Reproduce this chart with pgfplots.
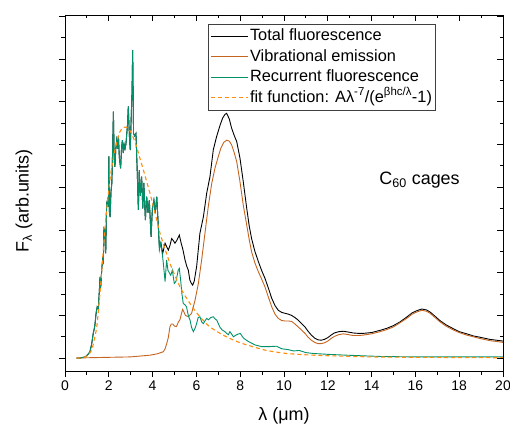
\documentclass[border=0pt]{standalone}
\usepackage{fontspec}
\setmainfont{Liberation Sans}
\usepackage{pgfplots}
\pgfplotsset{compat=1.18}
\definecolor{cblack}{RGB}{0,0,0}
\definecolor{cbrown}{RGB}{196,100,30}
\definecolor{cgreen}{RGB}{0,145,105}
\definecolor{corange}{RGB}{255,140,10}
\begin{document}
\begin{tikzpicture}
\path[use as bounding box] (-65bp,-54bp) rectangle (445bp,371bp);
\begin{axis}[
  at={(0,0)}, anchor=south west, scale only axis,
  width=438bp, height=356bp,
  xmin=0, xmax=20, ymin=-0.3, ymax=8.03,
  xtick={0,2,...,20}, minor x tick num=1,
  ytick={0,1,...,8}, minor y tick num=1, yticklabels={},
  tick align=outside, xtick pos=left, ytick pos=left,
  major tick length=6bp, minor tick length=3.5bp,
  axis line style={line width=0.9bp},
  every tick/.style={line width=0.9bp, black},
  /pgf/number format/assume math mode=true,
  tick label style={font=\fontsize{14}{16}\selectfont},
  xlabel={λ (μm)},
  ylabel={F\textsubscript{λ} (arb.units)},
  label style={font=\fontsize{18}{21}\selectfont},
  x label style={at={(axis description cs:0.5,0)}, yshift=-45bp, anchor=center},
  y label style={at={(axis description cs:-0.0936,0.478)}, anchor=center},
  legend style={at={(0.3265,0.9747)}, anchor=north west, draw=black!75, line width=0.9bp,
    font=\fontsize{16.4}{20}\selectfont, inner xsep=2bp, inner ysep=2.5bp,
    nodes={inner sep=1.5bp, text height=12.5bp, text depth=4.5bp},
    row sep=0.4bp},
  legend cell align=left,
  legend image code/.code={\draw[#1, line width=1.1bp] (0bp,0.5bp) -- (37bp,0.5bp);},
]
% Total fluorescence
\addplot[cblack, line width=0.9bp] coordinates {
(0.53,0.00)(0.75,0.01)(0.92,0.03)(1.05,0.09)(1.14,0.15)(1.22,0.34)(1.29,0.58)(1.36,0.75)(1.42,1.05)(1.47,1.2)(1.52,1.15)(1.57,1.6)(1.60,1.9)(1.63,1.65)(1.68,2.1)(1.72,2.3)(1.75,2.2)(1.78,3.04)(1.82,3.0)(1.86,2.45)(1.90,3.62)(1.94,3.7)(1.98,3.55)(2.00,4.72)(2.03,3.4)(2.06,3.3)(2.10,3.9)(2.14,4.1)(2.18,5.0)(2.21,5.77)(2.25,4.6)(2.28,4.48)(2.32,4.9)(2.36,5.1)(2.40,4.9)(2.44,5.2)(2.48,4.7)(2.54,4.44)(2.58,4.9)(2.62,5.1)(2.66,4.8)(2.70,5.0)(2.74,4.9)(2.78,5.0)(2.81,5.18)(2.86,5.5)(2.89,5.89)(2.94,5.2)(2.98,4.87)(3.02,5.6)(3.06,6.2)(3.09,7.21)(3.13,5.26)(3.18,5.2)(3.24,5.26)(3.29,4.5)(3.35,3.47)(3.39,4.4)(3.44,3.8)(3.50,4.25)(3.55,3.5)(3.60,4.1)(3.67,3.23)(3.73,3.78)(3.79,3.4)(3.85,3.7)(3.93,2.84)(3.99,3.5)(4.06,3.7)(4.12,3.4)(4.19,3.78)(4.25,3.2)(4.31,2.6)(4.38,2.7)(4.46,2.45)(4.57,2.69)(4.65,2.6)(4.72,2.53)(4.80,2.65)(4.87,2.8)(4.95,2.75)(5.02,2.69)(5.10,2.75)(5.22,2.88)(5.30,2.7)(5.38,2.55)(5.48,2.3)(5.56,2.15)(5.63,2.06)(5.70,1.83)(5.77,1.75)(5.83,1.71)(5.90,1.8)(6.01,2.14)(6.16,2.92)(6.32,3.31)(6.47,3.86)(6.62,4.25)(6.77,4.87)(6.92,5.18)(7.08,5.45)(7.20,5.62)(7.30,5.70)(7.38,5.73)(7.50,5.6)(7.61,5.38)(7.72,5.22)(7.84,5.07)(7.99,4.68)(8.14,4.13)(8.30,3.5)(8.41,3.1)(8.52,2.8)(8.67,2.5)(8.83,2.26)(8.98,2.05)(9.13,1.87)(9.28,1.65)(9.44,1.4)(9.59,1.23)(9.74,1.12)(9.90,1.07)(10.05,1.05)(10.20,1.03)(10.35,1.0)(10.50,0.95)(10.65,0.89)(10.80,0.81)(10.96,0.73)(11.10,0.63)(11.25,0.54)(11.40,0.47)(11.55,0.43)(11.70,0.42)(11.85,0.44)(12.00,0.48)(12.15,0.54)(12.30,0.59)(12.50,0.62)(12.71,0.63)(12.95,0.61)(13.16,0.59)(13.40,0.58)(13.62,0.58)(14.00,0.6)(14.38,0.65)(14.70,0.7)(14.99,0.76)(15.30,0.85)(15.60,0.96)(15.85,1.06)(16.06,1.11)(16.29,1.15)(16.50,1.13)(16.67,1.08)(16.90,0.98)(17.12,0.88)(17.40,0.78)(17.73,0.69)(18.00,0.62)(18.34,0.57)(18.65,0.52)(18.95,0.49)(19.40,0.44)(19.86,0.41)(20.00,0.40)
};
\addlegendentry{Total fluorescence}
% Vibrational emission
\addplot[cbrown, line width=0.9bp] coordinates {
(0.53,0.00)(1.0,0.01)(2.0,0.02)(3.0,0.03)(3.88,0.07)(4.2,0.10)(4.49,0.15)(4.57,0.22)(4.65,0.35)(4.72,0.49)(4.79,0.73)(4.85,0.80)(4.92,0.80)(5.0,0.75)(5.09,0.74)(5.18,0.85)(5.25,0.90)(5.32,1.05)(5.37,1.14)(5.43,1.08)(5.50,1.0)(5.63,0.97)(5.78,1.05)(5.94,1.36)(6.09,1.75)(6.24,2.3)(6.39,2.92)(6.54,3.54)(6.70,4.09)(6.85,4.45)(7.00,4.72)(7.12,4.92)(7.25,5.05)(7.38,5.10)(7.50,5.08)(7.61,4.99)(7.72,4.82)(7.84,4.6)(7.99,4.13)(8.14,3.58)(8.30,3.11)(8.41,2.78)(8.52,2.49)(8.67,2.23)(8.83,2.02)(8.98,1.85)(9.13,1.67)(9.28,1.44)(9.44,1.2)(9.59,1.03)(9.74,0.93)(9.90,0.88)(10.05,0.87)(10.20,0.87)(10.35,0.86)(10.50,0.8)(10.65,0.73)(10.80,0.66)(10.96,0.58)(11.10,0.49)(11.25,0.42)(11.40,0.37)(11.55,0.34)(11.70,0.34)(11.85,0.36)(12.00,0.40)(12.15,0.46)(12.30,0.51)(12.50,0.55)(12.71,0.57)(12.95,0.55)(13.16,0.53)(13.40,0.53)(13.62,0.54)(14.00,0.57)(14.38,0.62)(14.70,0.67)(14.99,0.73)(15.30,0.83)(15.60,0.93)(15.85,1.03)(16.06,1.08)(16.29,1.12)(16.50,1.10)(16.67,1.05)(16.90,0.95)(17.12,0.85)(17.40,0.75)(17.73,0.66)(18.00,0.60)(18.34,0.54)(18.65,0.50)(18.95,0.46)(19.40,0.41)(19.86,0.38)(20.00,0.37)
};
\addlegendentry{Vibrational emission}
% Recurrent fluorescence
\addplot[cgreen, line width=0.9bp] coordinates {
(0.53,0.00)(0.75,0.01)(0.92,0.03)(1.05,0.09)(1.14,0.15)(1.22,0.34)(1.29,0.58)(1.36,0.75)(1.42,1.05)(1.47,1.2)(1.52,1.15)(1.57,1.6)(1.60,1.9)(1.63,1.65)(1.68,2.1)(1.72,2.3)(1.75,2.2)(1.78,3.04)(1.82,3.0)(1.86,2.45)(1.90,3.62)(1.94,3.7)(1.98,3.55)(2.00,4.72)(2.03,3.4)(2.06,3.3)(2.10,3.9)(2.14,4.1)(2.18,5.0)(2.21,5.77)(2.25,4.6)(2.28,4.48)(2.32,4.9)(2.36,5.1)(2.40,4.9)(2.44,5.2)(2.48,4.7)(2.54,4.44)(2.58,4.9)(2.62,5.1)(2.66,4.8)(2.70,5.0)(2.74,4.9)(2.78,5.0)(2.81,5.18)(2.86,5.5)(2.89,5.89)(2.94,5.2)(2.98,4.87)(3.02,5.6)(3.06,6.2)(3.09,7.21)(3.13,5.26)(3.18,5.2)(3.24,5.26)(3.29,4.5)(3.35,3.47)(3.39,4.4)(3.44,3.8)(3.50,4.25)(3.55,3.5)(3.60,4.1)(3.67,3.23)(3.73,3.78)(3.79,3.4)(3.85,3.7)(3.93,2.84)(3.99,3.5)(4.06,3.7)(4.12,3.4)(4.19,3.78)(4.25,3.2)(4.31,2.53)(4.37,2.69)(4.44,2.45)(4.49,2.22)(4.57,1.79)(4.64,2.3)(4.70,2.06)(4.76,2.0)(4.83,1.94)(4.90,2.06)(4.99,1.75)(5.07,1.8)(5.17,2.06)(5.22,2.1)(5.28,1.83)(5.34,1.5)(5.40,1.28)(5.48,1.25)(5.55,1.2)(5.63,1.0)(5.71,0.89)(5.78,0.72)(5.86,0.62)(5.94,0.70)(6.01,0.81)(6.08,0.95)(6.16,0.97)(6.24,0.85)(6.32,0.81)(6.40,0.88)(6.47,0.93)(6.55,0.90)(6.65,0.95)(6.77,0.97)(6.85,0.92)(6.93,0.89)(7.08,0.72)(7.18,0.66)(7.30,0.62)(7.40,0.57)(7.46,0.55)(7.53,0.62)(7.60,0.57)(7.69,0.50)(7.84,0.55)(8.00,0.58)(8.15,0.47)(8.37,0.39)(8.68,0.31)(8.98,0.27)(9.30,0.27)(9.66,0.28)(9.90,0.22)(10.20,0.20)(10.43,0.17)(10.70,0.18)(11.00,0.13)(11.34,0.11)(12.00,0.09)(12.86,0.07)(14.40,0.04)(16.00,0.03)(18.00,0.03)(20.00,0.03)
};
\addlegendentry{Recurrent fluorescence}
% fit
\addplot[corange, line width=1.1bp, dash pattern=on 4bp off 3bp, smooth, tension=0.4] coordinates {
(0.53,0.0)(0.9,0.02)(1.05,0.07)(1.22,0.19)(1.33,0.42)(1.45,0.73)(1.56,1.3)(1.67,1.98)(1.75,2.55)(1.83,3.07)(1.94,3.65)(2.05,4.17)(2.16,4.55)(2.28,4.87)(2.40,5.12)(2.51,5.3)(2.66,5.4)(2.82,5.4)(2.93,5.35)(3.04,5.26)(3.15,5.12)(3.27,4.95)(3.42,4.68)(3.58,4.4)(3.73,4.13)(3.88,3.86)(4.04,3.54)(4.19,3.23)(4.34,2.92)(4.57,2.55)(4.79,2.22)(5.02,1.93)(5.25,1.67)(5.48,1.46)(5.71,1.28)(5.94,1.11)(6.16,0.97)(6.39,0.84)(6.62,0.73)(7.08,0.58)(7.53,0.46)(8.0,0.36)(8.5,0.28)(9.21,0.18)(10.12,0.11)(11.34,0.07)(12.5,0.05)(14,0.03)(16,0.02)(18,0.015)(20,0.01)
};
\addlegendentry{fit function: Aλ\textsuperscript{-7}/(e\textsuperscript{βhc/λ}-1)}
\node[font=\fontsize{18}{21}\selectfont, anchor=center] at (axis cs:16.19,4.17) {C\textsubscript{60} cages};
\end{axis}
\begin{axis}[
  at={(0,0)}, anchor=south west, scale only axis,
  width=438bp, height=356bp,
  xmin=0, xmax=20, ymin=-0.3, ymax=8.03,
  xtick={0,2,...,20}, minor x tick num=1,
  ytick={0,1,...,8}, minor y tick num=1,
  xticklabels={}, yticklabels={},
  tick align=inside, xtick pos=right, ytick pos=right,
  major tick length=6bp, minor tick length=3.5bp,
  axis line style={line width=0.9bp},
  every tick/.style={line width=0.9bp, black},
]
\end{axis}
\end{tikzpicture}
\end{document}
